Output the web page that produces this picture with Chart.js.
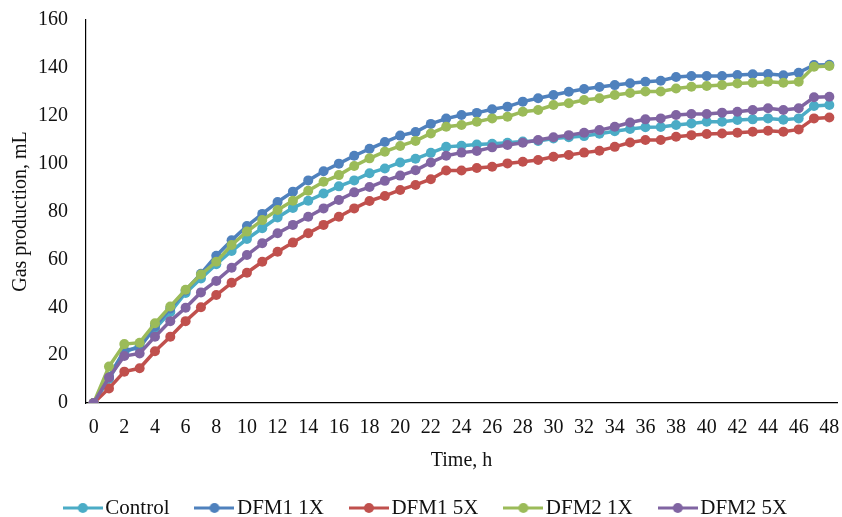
<!DOCTYPE html>
<html>
<head>
<meta charset="utf-8">
<script src="https://cdn.jsdelivr.net/npm/chart.js@4.4.1/dist/chart.umd.min.js"></script>
<style>
html,body{margin:0;padding:0;background:#fff;}
#wrap{width:842px;height:517px;}
</style>
</head>
<body>
<div id="wrap"><canvas id="c" width="842" height="517"></canvas></div>
<script>
const hours = [0,1,2,3,4,5,6,7,8,9,10,11,12,13,14,15,16,17,18,19,20,21,22,23,24,25,26,27,28,29,30,31,32,33,34,35,36,37,38,39,40,41,42,43,44,45,46,47,48];
const seriesNames = ["Control", "DFM1 1X", "DFM1 5X", "DFM2 1X", "DFM2 5X"];
const yTicks = [0,20,40,60,80,100,120,140,160];

const control = [0,10,21,24,31,38,46,52,58,63.5,68.5,73,77.5,81.5,84.5,87.5,90.5,93,96,98,100.5,102,104.5,107,107.5,108,108.3,108.7,109.2,109.5,110.5,111,111.5,112.5,113.5,114.5,115.2,115.3,116.1,116.8,117.5,117.5,118.2,118.5,118.9,118.3,118.9,124.1,124.5];
const dfm1_1x = [0,11,22,23,32,39.5,47,54,61.5,68,73.9,79,84,88.3,93,96.8,100,103.3,106.2,109,111.7,113.2,116.6,118.8,120.3,121.2,122.7,123.8,125.9,127.3,128.7,130,131.2,132,132.8,133.6,134.2,134.6,136.2,136.6,136.6,136.6,137,137.3,137.4,136.9,138,141.2,141.3];
const dfm1_5x = [0,6.1,13.1,14.5,21.6,27.7,34.2,40,45.1,50.2,54.4,59,63.2,67,70.9,74.4,77.8,81.3,84.4,86.5,89,91.1,93.5,97.1,97.1,98.2,98.7,100.1,100.8,101.5,102.9,103.6,104.6,105.4,107,108.8,109.9,109.9,111.2,111.9,112.4,112.6,112.9,113.3,113.7,113.3,114.3,118.9,119.3];
const dfm2_1x = [0,15.2,24.6,25.2,33.3,40.3,47.3,53.7,59,66,71.6,76.4,80.6,84.5,88.7,92.4,95.2,99,102.2,105,107.4,109.5,112.6,115.4,116.1,117.5,118.9,119.6,121.7,122.4,124.5,125.2,126.6,127.3,128.7,129.5,130.1,130.1,131.4,132.1,132.4,132.8,133.5,133.8,134.2,133.8,134.2,140.5,140.8];
const dfm2_5x = [0,10.7,19.6,20.7,27.7,34.2,39.8,46.2,51,56.5,61.8,66.7,70.9,74.4,77.8,81.3,84.8,88,90.2,92.8,95,97.2,100.5,103.3,104.6,105.3,106.8,107.8,108.7,109.9,111,111.9,112.9,114,115.4,117.2,118.5,118.9,120.3,120.7,120.7,121.3,121.7,122.4,123.1,122.4,123.1,127.7,127.9];

const colors = ["#4BACC6", "#4F81BD", "#C0504D", "#9BBB59", "#8064A2"];
const allData = [control, dfm1_1x, dfm1_5x, dfm2_1x, dfm2_5x];

const FONT = '"Liberation Serif", "Times New Roman", serif';

function marker(color) {
  const c = document.createElement('canvas');
  c.width = 40; c.height = 14;
  const g = c.getContext('2d');
  g.strokeStyle = color; g.lineWidth = 3;
  g.beginPath(); g.moveTo(0, 7); g.lineTo(40, 7); g.stroke();
  g.fillStyle = color;
  g.beginPath(); g.arc(20, 7, 5, 0, Math.PI * 2); g.fill();
  return c;
}
const markers = colors.map(marker);

const datasets = seriesNames.map((name, i) => ({
  label: name,
  data: allData[i],
  borderColor: colors[i],
  backgroundColor: colors[i],
  pointBackgroundColor: colors[i],
  pointBorderColor: colors[i],
  pointBorderWidth: 0,
  pointRadius: 5,
  pointHoverRadius: 5,
  borderWidth: 3.5,
  tension: 0,
  order: seriesNames.length - i
}));

const legendShift = {
  id: 'legendShift',
  afterLayout(chart) {
    const l = chart.legend;
    if (l) { l.left += 10; l.right += 10; }
  }
};

new Chart(document.getElementById('c'), {
  type: 'line',
  data: { labels: hours.map(String), datasets },
  plugins: [legendShift],
  options: {
    responsive: false,
    animation: false,
    devicePixelRatio: 1,
    layout: { padding: { top: 20, right: 4, left: 0, bottom: -11.5 } },
    plugins: {
      tooltip: { enabled: false },
      legend: {
        position: 'bottom',
        labels: {
          usePointStyle: true,
          pointStyleWidth: 24,
          padding: 33,
          color: '#111',
          font: { family: FONT, size: 21 },
          generateLabels: (chart) => {
            const items = Chart.defaults.plugins.legend.labels.generateLabels(chart);
            items.forEach(it => { it.pointStyle = markers[it.datasetIndex]; });
            items.sort((a, b) => a.datasetIndex - b.datasetIndex);
            return items;
          }
        }
      }
    },
    scales: {
      x: {
        type: 'category',
        offset: true,
        grid: { display: true, drawOnChartArea: false, drawTicks: false, color: 'rgba(0,0,0,0)' },
        border: { display: true, color: '#000', width: 1.2 },
        ticks: {
          autoSkip: false,
          maxRotation: 0,
          minRotation: 0,
          padding: 13,
          color: '#111',
          font: { family: FONT, size: 20 },
          callback: function(val, idx) { return idx % 2 === 0 ? this.getLabelForValue(val) : ''; }
        },
        title: {
          display: true,
          text: 'Time, h',
          color: '#111',
          font: { family: FONT, size: 20 },
          padding: { top: 0, bottom: -8.5 }
        },
        afterFit: (s) => { s.height = 61.5; s.paddingLeft = 0; s.paddingRight = 0; }
      },
      y: {
        min: 0,
        max: 160,
        afterBuildTicks: (s) => { s.ticks = yTicks.map(v => ({ value: v })); },
        grid: { display: true, drawOnChartArea: false, drawTicks: false, color: 'rgba(0,0,0,0)' },
        border: { display: true, color: '#000', width: 1.2 },
        ticks: {
          padding: 18,
          color: '#111',
          font: { family: FONT, size: 20 }
        },
        title: {
          display: true,
          text: 'Gas production, mL',
          color: '#111',
          font: { family: FONT, size: 20 },
          padding: { top: 9, bottom: 0 }
        },
        afterFit: (s) => { s.width = 86; s.paddingTop = 0; s.paddingBottom = 0; }
      }
    }
  }
});
</script>
</body>
</html>
